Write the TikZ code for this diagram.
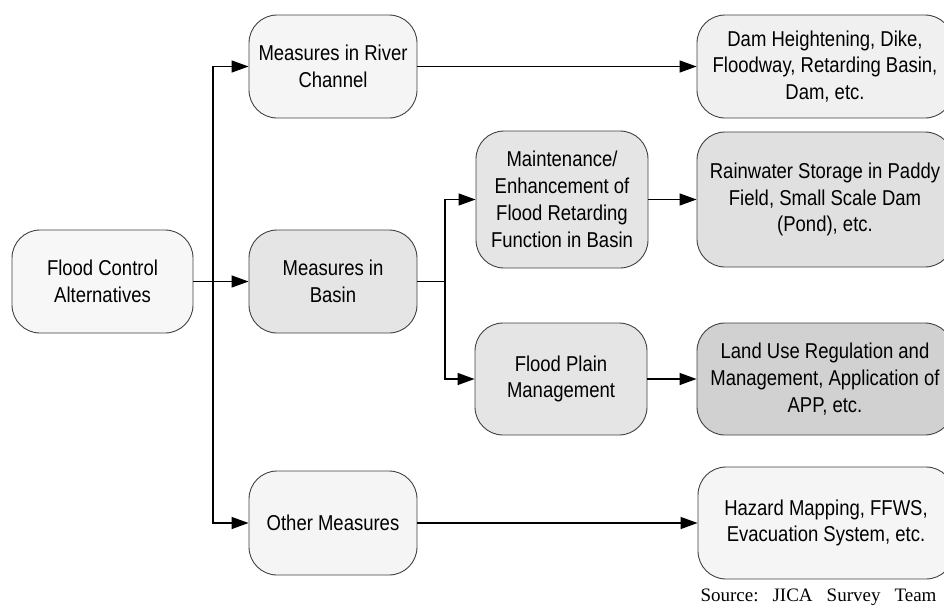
\documentclass[tikz,border=0pt]{standalone}
\usepackage{fontspec}
\setmainfont{Liberation Sans}[FakeStretch=0.86]
\newfontfamily\srcfont{Liberation Serif}
\usetikzlibrary{arrows.meta}
\begin{document}
\begin{tikzpicture}[x=1pt,y=-1pt,
  box/.style={draw=black!75, line width=0.9pt, rounded corners=28pt, align=center,
    inner sep=0pt, font=\fontsize{21.5}{26.8}\selectfont},
  conn/.style={line width=1.3pt, -{Triangle[length=17pt,width=12pt]}},
  plain/.style={line width=1.3pt}]
\useasboundingbox (0,0) rectangle (944,605);
\begin{scope}
\clip (0,0) rectangle (944,605);
\node[box, fill=black!3, minimum width=181pt, minimum height=103pt] (A) at (102.5,281.5) {Flood Control\\Alternatives};
\node[box, fill=black!4, minimum width=168pt, minimum height=103pt] (B) at (333,66.5) {Measures in River\\Channel};
\node[box, fill=black!10, minimum width=168pt, minimum height=103pt] (C) at (333,281.5) {Measures in\\Basin};
\node[box, fill=black!4, minimum width=168pt, minimum height=104pt] (D) at (333,523) {Other Measures};
\node[box, fill=black!10, minimum width=172pt, minimum height=137pt] (E) at (562,199.5) {Maintenance/\\Enhancement of\\Flood Retarding\\Function in Basin};
\node[box, fill=black!10, minimum width=172pt, minimum height=112pt] (F) at (561,379) {Flood Plain\\Management};
\node[box, fill=black!6, minimum width=256pt, minimum height=103pt] (G) at (825,66.5) {Dam Heightening, Dike,\\Floodway, Retarding Basin,\\Dam, etc.};
\node[box, fill=black!12, minimum width=256pt, minimum height=135pt] (H) at (825,199.5) {Rainwater Storage in Paddy\\Field, Small Scale Dam\\(Pond), etc.};
\node[box, fill=black!18, minimum width=256pt, minimum height=112pt] (I) at (825,379) {Land Use Regulation and\\Management, Application of\\APP, etc.};
\node[box, fill=black!4, minimum width=256pt, minimum height=112pt] (J) at (826,523) {Hazard Mapping, FFWS,\\Evacuation System, etc.};
\end{scope}
\coordinate (j1) at (213,281.5);
\coordinate (j2) at (445,281.5);
\draw[conn] (A) -- (C);
\draw[conn] (j1) |- (B);
\draw[conn] (j1) |- (D);
\draw[plain] (C) -- (j2);
\draw[conn] (j2) |- (E);
\draw[conn] (j2) |- (F);
\draw[conn] (B) -- (G);
\draw[conn] (E) -- (H);
\draw[conn] (F) -- (I);
\draw[conn] (D) -- (J);
\node[font=\srcfont\fontsize{19}{22}\selectfont, anchor=base, inner sep=0pt] (src) at (818.5,601)
  {Source:\hspace{14pt}JICA\hspace{14pt}Survey\hspace{14pt}Team};
\end{tikzpicture}
\end{document}
